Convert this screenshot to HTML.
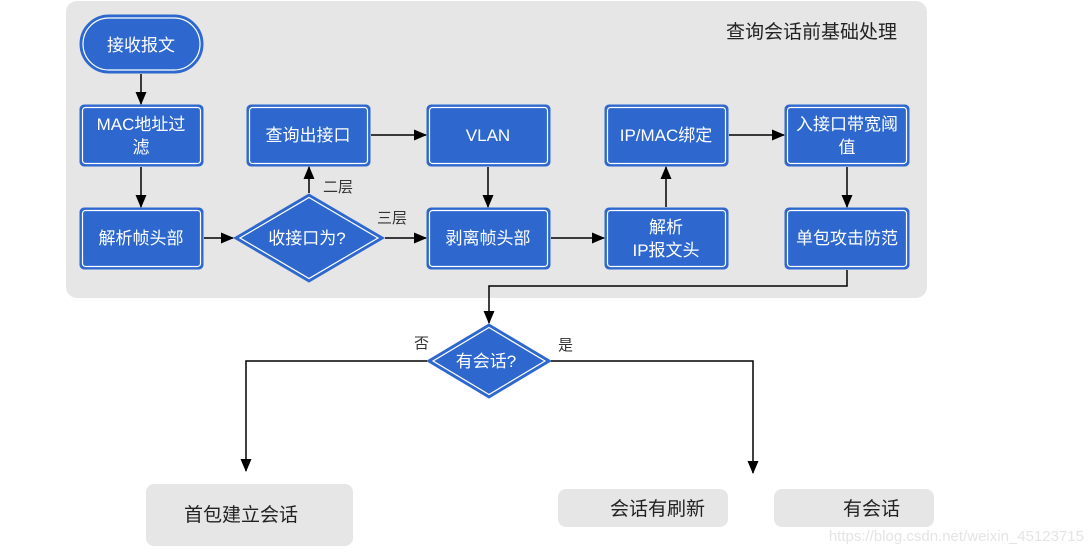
<!DOCTYPE html>
<html><head><meta charset="utf-8"><style>
html,body{margin:0;padding:0;background:#fff;}
svg{display:block;font-family:"Liberation Sans","Noto Sans CJK SC",sans-serif;}
</style></head><body>
<svg width="1092" height="552" viewBox="0 0 1092 552" xmlns="http://www.w3.org/2000/svg">
<defs>
<marker id="a" markerWidth="13" markerHeight="11" refX="12" refY="5.5" orient="auto" markerUnits="userSpaceOnUse"><path d="M0,0 L13,5.5 L0,11 z" fill="#000"/></marker>
</defs>
<rect x="66" y="1" width="861" height="297" rx="11" fill="#e6e6e6"/>
<text x="897" y="38" font-size="19" text-anchor="end" fill="#222">查询会话前基础处理</text>
<g fill="#2e68cf" stroke="#2e68cf" stroke-width="1">
<rect x="80" y="15" width="123" height="58" rx="29"/>
<rect x="80" y="105" width="123" height="61" rx="4"/>
<rect x="80" y="208" width="123" height="61" rx="4"/>
<rect x="247" y="105" width="123" height="61" rx="4"/>
<rect x="427" y="105" width="123" height="61" rx="4"/>
<rect x="427" y="208" width="123" height="61" rx="4"/>
<rect x="605" y="105" width="123" height="61" rx="4"/>
<rect x="605" y="208" width="123" height="61" rx="4"/>
<rect x="785" y="105" width="124" height="61" rx="4"/>
<rect x="785" y="208" width="124" height="61" rx="4"/>
<polygon points="309,194 384,238 309,282 234,238"/>
<polygon points="489,324 551,361 489,398 427,361"/>
</g>
<g fill="none" stroke="#fff" stroke-width="1.2">
<rect x="83" y="18" width="117" height="52" rx="26"/>
<rect x="82.5" y="107.5" width="118" height="56" rx="3"/>
<rect x="82.5" y="210.5" width="118" height="56" rx="3"/>
<rect x="249.5" y="107.5" width="118" height="56" rx="3"/>
<rect x="429.5" y="107.5" width="118" height="56" rx="3"/>
<rect x="429.5" y="210.5" width="118" height="56" rx="3"/>
<rect x="607.5" y="107.5" width="118" height="56" rx="3"/>
<rect x="607.5" y="210.5" width="118" height="56" rx="3"/>
<rect x="787.5" y="107.5" width="119" height="56" rx="3"/>
<rect x="787.5" y="210.5" width="119" height="56" rx="3"/>
<polygon points="309,197.5 378,238 309,278.5 240,238"/>
<polygon points="489,327.5 545,361 489,394.5 433,361"/>
</g>
<g fill="#fff" font-size="17" text-anchor="middle">
<text x="141" y="51">接收报文</text>
<text x="141" y="130">MAC地址过</text><text x="141" y="153">滤</text>
<text x="141" y="244">解析帧头部</text>
<text x="308" y="141">查询出接口</text>
<text x="488" y="141">VLAN</text>
<text x="488" y="244">剥离帧头部</text>
<text x="666" y="141">IP/MAC绑定</text>
<text x="666" y="233">解析</text><text x="666" y="256">IP报文头</text>
<text x="847" y="130">入接口带宽阈</text><text x="847" y="153">值</text>
<text x="847" y="244">单包攻击防范</text>
<text x="307" y="244">收接口为?</text>
<text x="486" y="367">有会话?</text>
</g>
<g stroke="#000" stroke-width="1.5" fill="none" marker-end="url(#a)">
<line x1="141" y1="74" x2="141" y2="104"/>
<line x1="141" y1="167" x2="141" y2="207"/>
<line x1="204" y1="238" x2="233" y2="238"/>
<line x1="309" y1="193" x2="309" y2="167"/>
<line x1="385" y1="238" x2="426" y2="238"/>
<line x1="371" y1="135" x2="426" y2="135"/>
<line x1="488" y1="167" x2="488" y2="207"/>
<line x1="551" y1="238" x2="604" y2="238"/>
<line x1="666" y1="207" x2="666" y2="167"/>
<line x1="729" y1="135" x2="784" y2="135"/>
<line x1="847" y1="167" x2="847" y2="207"/>
<polyline points="847,270 847,286 489,286 489,323"/>
<polyline points="427,361 246,361 246,471"/>
<polyline points="551,361 753,361 753,473"/>
</g>
<g fill="#333" font-size="15">
<text x="323" y="192">二层</text>
<text x="377" y="223">三层</text>
<text x="414" y="348">否</text>
<text x="558" y="350">是</text>
</g>
<g fill="#e6e6e6">
<rect x="146" y="484" width="207" height="62" rx="8"/>
<rect x="558" y="489" width="170" height="38" rx="8"/>
<rect x="774" y="489" width="160" height="38" rx="8"/>
</g>
<g fill="#222" font-size="19">
<text x="184" y="521">首包建立会话</text>
<text x="610" y="515">会话有刷新</text>
<text x="843" y="515">有会话</text>
</g>
<text x="1084" y="541" font-size="15" fill="#e4e4e4" text-anchor="end">https://blog.csdn.net/weixin_45123715</text>
</svg>
</body></html>
